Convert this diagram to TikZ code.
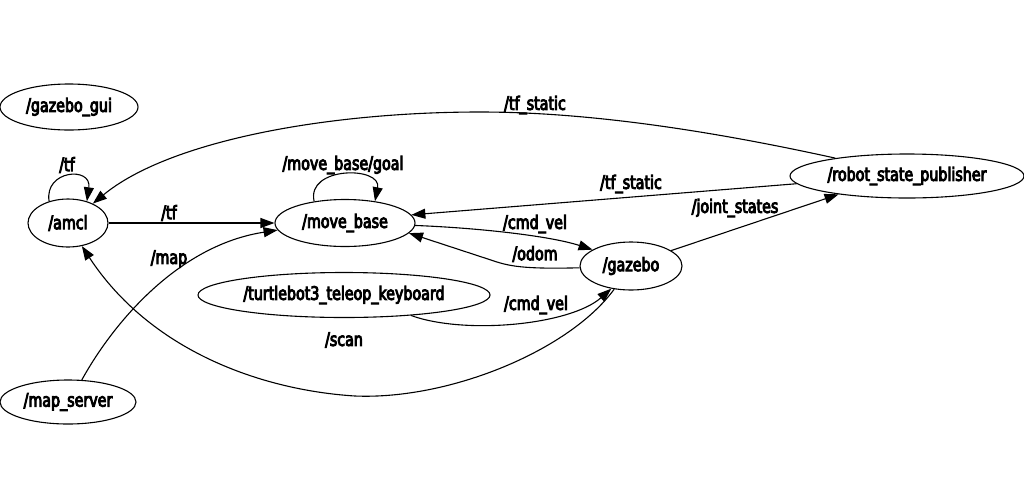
\documentclass[tikz,border=0pt]{standalone}
\usepackage{fontspec}
\setmainfont{DejaVu Sans}[FakeStretch=0.77,FakeBold=5]
\usetikzlibrary{shapes.geometric,arrows.meta}
\tikzset{
  nd/.style={draw,ellipse,line width=1.1pt,inner sep=0pt,font=\fontsize{18.5}{20}\selectfont},
  lbl/.style={inner sep=0pt,font=\fontsize{18.5}{20}\selectfont},
  arr/.style={line width=1.1pt,-{Triangle[length=14pt,width=10pt]}},
}
\begin{document}
\begin{tikzpicture}[x=1pt,y=-1pt]
\useasboundingbox[fill=white] (0,0) rectangle (1024,496);
% nodes
\node[nd,minimum width=138pt,minimum height=46pt] (gazebo_gui) at (69,107) {/gazebo\_gui};
\node[nd,minimum width=80pt,minimum height=48pt] (amcl) at (68,223) {/amcl};
\node[nd,minimum width=140pt,minimum height=47pt] (move_base) at (345,223) {/move\_base};
\node[nd,minimum width=234pt,minimum height=44pt] (rsp) at (907,176) {/robot\_state\_publisher};
\node[nd,minimum width=102pt,minimum height=48pt] (gazebo) at (631,266) {/gazebo};
\node[nd,minimum width=292pt,minimum height=45pt] (teleop) at (344,295) {/turtlebot3\_teleop\_keyboard};
\node[nd,minimum width=136pt,minimum height=44pt] (map_server) at (68,402) {/map\_server};
\coordinate (scanmid) at (355,396);
\coordinate (tfmid) at (480,112);
\coordinate (odommid) at (497,262);
% edges
\draw[arr] (amcl.131) .. controls (44,170) and (92,166) .. (amcl.49);
\draw[arr] (amcl.east) -- (move_base.west);
\draw[arr] (map_server.58) .. controls (115,320) and (180,245) .. (move_base.186);
\draw[arr] (gazebo.234) .. controls (570,350) and (450,400) .. (scanmid) .. controls (260,390) and (150,350) .. (amcl.301);
\draw[arr] (move_base.145) .. controls (306,166) and (382,166) .. (move_base.36);
\draw[arr] (rsp.166) .. controls (730,135) and (600,112) .. (tfmid) .. controls (330,112) and (170,140) .. (amcl.38);
\draw[arr] (rsp.184) -- (move_base.7);
\draw[arr] (move_base.-2) .. controls (480,228) and (550,236) .. (gazebo.157);
\draw[arr] (gazebo.182) .. controls (530,269) and (513,267) .. (odommid) -- (move_base.-9);
\draw[arr] (gazebo.21) -- (rsp.195);
\draw[arr] (teleop.-17) .. controls (465,335) and (570,325) .. (gazebo.229);
% labels
\node[lbl] (l_tf_loop) at (67,165) {/tf};
\node[lbl] (l_tf) at (169,213) {/tf};
\node[lbl] (l_map) at (169,259) {/map};
\node[lbl] (l_scan) at (344,340) {/scan};
\node[lbl] (l_goal) at (343,165) {/move\_base/goal};
\node[lbl] (l_tfs1) at (535,105) {/tf\_static};
\node[lbl] (l_tfs2) at (631,184) {/tf\_static};
\node[lbl] (l_js) at (735,208) {/joint\_states};
\node[lbl] (l_cmd1) at (535,224) {/cmd\_vel};
\node[lbl] (l_odom) at (535,254) {/odom};
\node[lbl] (l_cmd2) at (536,305) {/cmd\_vel};
\end{tikzpicture}
\end{document}
